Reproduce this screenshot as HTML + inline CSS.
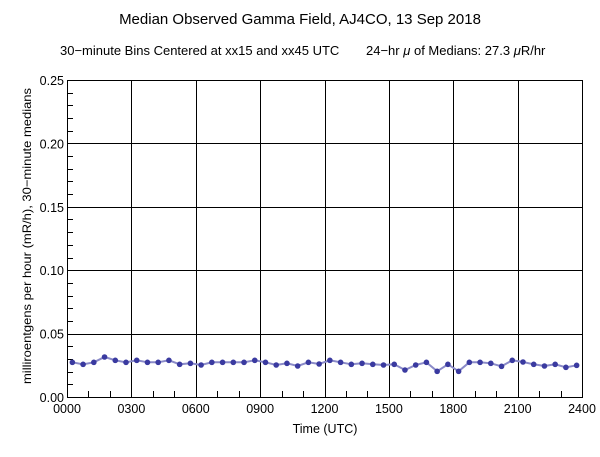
<!DOCTYPE html>
<html><head><meta charset="utf-8"><style>
body{margin:0;background:#fff;width:600px;height:457px;overflow:hidden}
svg{display:block;font-family:"Liberation Sans",Arial,sans-serif}
</style></head><body>
<svg width="600" height="457" xmlns="http://www.w3.org/2000/svg">
<rect width="600" height="457" fill="#fff"/>
<text x="300" y="24" font-size="15" text-anchor="middle">Median Observed Gamma Field, AJ4CO, 13 Sep 2018</text>
<text x="60" y="55" font-size="13">30−minute Bins Centered at xx15 and xx45 UTC</text>
<text x="366" y="55" font-size="13">24−hr <tspan font-style="italic">μ</tspan> of Medians: 27.3 <tspan font-style="italic">μ</tspan>R/hr</text>
<g id="grid" stroke="#000" stroke-width="1"></g>
<text x="325" y="433" font-size="12.5" text-anchor="middle">Time (UTC)</text>
<text transform="translate(31,236) rotate(-90)" font-size="12" text-anchor="middle" textLength="296" lengthAdjust="spacingAndGlyphs">milliroentgens per hour (mR/h), 30−minute medians</text>
<g id="labels" font-size="12.5"></g>
<polyline id="line" fill="none" stroke="#8a8ac8" stroke-width="2"/>
<g id="pts" fill="#3a3aa0"></g>
</svg>
<script>
const L=67,R=582,T=80,B=397,ns="http://www.w3.org/2000/svg";
const g=document.getElementById('grid'),lb=document.getElementById('labels');
function el(p,tag,a,t){const e=document.createElementNS(ns,tag);for(const k in a)e.setAttribute(k,a[k]);if(t)e.textContent=t;p.appendChild(e);return e;}
el(g,'rect',{x:L+.5,y:T+.5,width:R-L,height:B-T,fill:'none'});
const xs=h=>L+(R-L)*h/24, ys=v=>B-(B-T)*v/0.25;
for(let h=0;h<=24;h++){const x=Math.round(xs(h))+.5;
 if(h%3==0){if(h>0&&h<24)el(g,'line',{x1:x,y1:T,x2:x,y2:B});
  el(lb,'text',{x:xs(h),y:B+16,'text-anchor':'middle'},String(h*100).padStart(4,'0'));}
 else el(g,'line',{x1:x,y1:B,x2:x,y2:B-6});}
for(let i=0;i<=25;i++){const v=i*0.01,y=Math.round(ys(v))+.5;
 if(i%5==0){if(i>0&&i<25)el(g,'line',{x1:L,y1:y,x2:R,y2:y});
  el(lb,'text',{x:L-3,y:ys(v)+5,'text-anchor':'end'},v.toFixed(2));}
 else el(g,'line',{x1:L,y1:y,x2:L+6,y2:y});}
const zy=[67,73,67,51,61,67,61,67,67,61,73,70,75,67,67,67,67,61,67,75,70,78,67,72,
61,67,73,70,73,75,73,90,75,67,94,73,94,67,67,70,79,61,66,73,78,73,82,76];
let pts=[];const pg=document.getElementById('pts');
zy.forEach((z,i)=>{const x=xs(i*0.5+0.25),y=340+z/3;pts.push(x.toFixed(1)+','+y.toFixed(1));el(pg,'circle',{cx:x,cy:y,r:2.8});});
document.getElementById('line').setAttribute('points',pts.join(' '));
</script>
</body></html>
